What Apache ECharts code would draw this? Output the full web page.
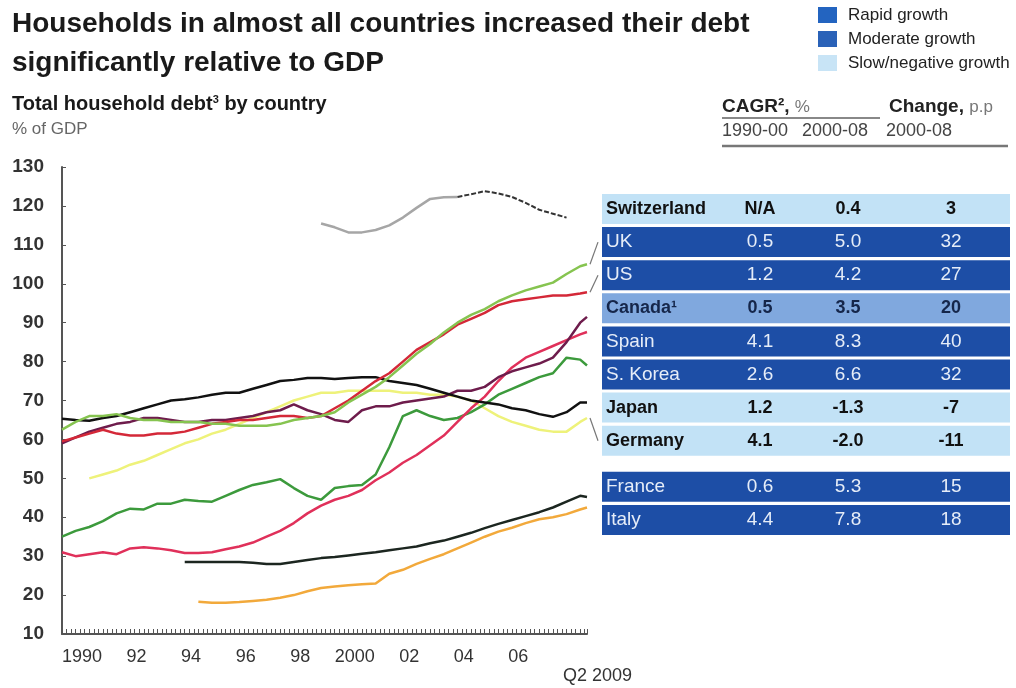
<!DOCTYPE html>
<html>
<head>
<meta charset="utf-8">
<script src="https://cdn.jsdelivr.net/npm/echarts@6/dist/echarts.min.js"></script>
<style>
  html, body { margin: 0; padding: 0; background: #fff; }
  #chart { width: 1016px; height: 688px; }
</style>
</head>
<body>
<div id="chart"></div>
<script>
// half-year grid, last point = Q2 2009
var periods = [1990, 1990.5, 1991, 1991.5, 1992, 1992.5, 1993, 1993.5, 1994, 1994.5,
  1995, 1995.5, 1996, 1996.5, 1997, 1997.5, 1998, 1998.5, 1999, 1999.5,
  2000, 2000.5, 2001, 2001.5, 2002, 2002.5, 2003, 2003.5, 2004, 2004.5,
  2005, 2005.5, 2006, 2006.5, 2007, 2007.5, 2008, 2008.5, 2009, 2009.25]

// household debt, % of GDP
var switzerland = [null, null, null, null, null, null, null, null, null, null,
  null, null, null, null, null, null, null, null, null, 115.5,
  114.5, 113.2, 113.2, 113.8, 115, 117, 119.5, 121.8, 122.2, 122.3,
  123, 123.8, 123.2, 122.3, 120.8, 119, 118, 117, null, null]
var uk = [62.5, 64.5, 66, 66, 66.5, 65.5, 65, 65, 64.5, 64.5,
  64.5, 64, 64, 63.5, 63.5, 63.5, 64, 65, 65.5, 66,
  67, 69.5, 71.5, 73.5, 76, 79, 82, 84.5, 87.5, 90,
  92, 93.5, 95.5, 97, 98.3, 99.3, 100.3, 102.5, 104.5, 105]
var us = [59.5, 60.5, 61.5, 62.5, 61.5, 61, 61, 61.5, 61.5, 62,
  63, 64, 64.5, 65, 65, 65.5, 66, 66, 65.5, 66,
  68, 70, 72.5, 75, 77, 80, 83, 85, 87, 89.5,
  91, 92.5, 94.5, 95.5, 96, 96.5, 97, 97, 97.5, 97.8]
var canada = [59, 60.5, 62, 63, 64, 64.5, 65.5, 65.5, 65, 64.5,
  64.5, 65, 65, 65.5, 66, 67, 67.5, 69, 67.5, 66.5,
  65, 64.5, 67.5, 68.5, 68.5, 69.5, 70, 70.5, 71, 72.5,
  72.5, 73.5, 76, 77.5, 78.5, 79.5, 81, 85, 90, 91.5]
var spain = [31, 30, 30.5, 31, 30.5, 32, 32.3, 32, 31.5, 30.8,
  30.8, 31, 31.8, 32.5, 33.5, 35, 36.5, 38.5, 41, 43,
  44.5, 45.5, 47, 49.5, 51.5, 54, 56, 58.5, 61, 64.5,
  68, 71, 75, 78.5, 81, 82.5, 84, 85.5, 87, 87.6]
var korea = [35, 36.5, 37.5, 39, 41, 42.2, 42, 43.5, 43.5, 44.5,
  44.2, 44, 45.5, 47, 48.3, 49, 49.8, 47.5, 45.5, 44.5,
  47.5, 48, 48.3, 51, 58, 66, 67.5, 66, 65, 65.5,
  67, 69, 71.5, 73, 74.5, 76, 77, 81, 80.5, 79]
var japan = [65.3, 65, 64.8, 65.5, 66, 67, 68, 69, 70, 70.3,
  70.8, 71.5, 72, 72, 73, 74, 75, 75.3, 75.8, 75.8,
  75.5, 75.8, 76, 76, 75, 74.5, 74, 73, 72, 71,
  70, 69.5, 69, 68, 67.5, 66.5, 65.8, 67, 69.5, 69.5]
var germany = [null, null, 50, 51, 52, 53.5, 54.5, 56, 57.5, 59,
  60, 61.5, 62.5, 64, 65.5, 67, 68.5, 70, 71, 72,
  72, 72.5, 72.5, 72.5, 72.5, 72, 72, 71.5, 71.5, 71,
  70, 68, 66, 64.5, 63.5, 62.5, 62, 62, 64.5, 65.5]
var france = [null, null, null, null, null, null, null, null, null, 28.5,
  28.5, 28.5, 28.5, 28.5, 28.3, 28, 28, 28.5, 29, 29.5,
  29.8, 30.2, 30.6, 31, 31.5, 32, 32.5, 33.3, 34, 35,
  36, 37.2, 38.3, 39.3, 40.3, 41.3, 42.5, 44, 45.5, 45.2]
var italy = [null, null, null, null, null, null, null, null, null, null,
  18.3, 18, 18, 18.2, 18.5, 18.8, 19.3, 20, 21, 21.8,
  22.2, 22.5, 22.8, 23, 25.5, 26.5, 28, 29.3, 30.5, 32,
  33.5, 35, 36.3, 37.3, 38.5, 39.5, 40, 40.8, 42, 42.5]

// table on the right
var tableNames = ['Switzerland', 'UK', 'US', 'Canada\u00b9', 'Spain', 'S. Korea', 'Japan', 'Germany', 'France', 'Italy']
var cagr9000 = ['N/A', '0.5', '1.2', '0.5', '4.1', '2.6', '1.2', '4.1', '0.6', '4.4']
var cagr0008 = ['0.4', '5.0', '4.2', '3.5', '8.3', '6.6', '-1.3', '-2.0', '5.3', '7.8']
var change0008 = ['3', '32', '27', '20', '40', '32', '-7', '-11', '15', '18']
var growthClass = ['slow', 'rapid', 'rapid', 'moderate', 'rapid', 'rapid', 'slow', 'slow', 'rapid', 'rapid']

var legendNames = ['Rapid growth', 'Moderate growth', 'Slow/negative growth']

var FONT = "'Liberation Sans', Arial, sans-serif"
var rowStyle = {
  rapid: { fill: '#1d4ea6', text: '#e6edf8', weight: 'normal', size: 19 },
  moderate: { fill: '#80a8de', text: '#15264a', weight: 'bold', size: 18 },
  slow: { fill: '#c2e2f6', text: '#111', weight: 'bold', size: 18 }
}
var legendColors = ['#2364c0', '#2a62b8', '#c8e4f6']

function pairs (vals) {
  return periods.map(function (p, i) { return [p, vals[i]] })
}
function part (vals, from, to) {
  return periods.map(function (p, i) { return [p, (i >= from && i <= to) ? vals[i] : null] })
}
function line (name, vals, color, width) {
  return {
    name: name,
    type: 'line',
    data: pairs(vals),
    symbol: 'none',
    lineStyle: { color: color, width: width || 2.5 },
    z: 3
  }
}

var chart = echarts.init(document.getElementById('chart'))

var option = {
  backgroundColor: '#fff',
  animation: false,
  grid: { left: 62, top: 167, width: 525, height: 467 },
  xAxis: {
    type: 'value',
    min: 1990,
    max: 2009.25,
    interval: 1,
    axisLine: { lineStyle: { color: '#555', width: 2 } },
    axisTick: { inside: true, length: 5, lineStyle: { color: '#555' } },
    minorTick: { show: true, splitNumber: 6, length: 5, lineStyle: { color: '#555' } },
    splitLine: { show: false },
    axisLabel: {
      color: '#333',
      fontSize: 18,
      fontFamily: FONT,
      margin: 14,
      padding: [0, 0, 0, 40],
      formatter: function (v) {
        if (v % 2 !== 0 || v === 2008) return ''
        if (v === 1990 || v === 2000) return String(v)
        return String(v).slice(2)
      }
    }
  },
  yAxis: {
    type: 'value',
    min: 10,
    max: 130,
    interval: 10,
    axisLine: { show: true, lineStyle: { color: '#555', width: 2 } },
    axisTick: { show: true, inside: true, length: 4, lineStyle: { color: '#555' } },
    splitLine: { show: false },
    axisLabel: { color: '#333', fontSize: 19, fontWeight: 'bold', fontFamily: FONT, margin: 18 }
  },
  series: [
    {
      name: 'Switzerland', type: 'line', data: part(switzerland, 0, 29), symbol: 'none',
      lineStyle: { color: '#a6a6a6', width: 2.5 }
    },
    {
      name: 'Switzerland', type: 'line', data: part(switzerland, 29, 39), symbol: 'none',
      lineStyle: { color: '#333', width: 2, type: [5, 2] }
    },
    line('Italy', italy, '#f2a93b'),
    line('France', france, '#1c2620'),
    line('Germany', germany, '#eef27a'),
    line('S. Korea', korea, '#3c9a3c'),
    line('Spain', spain, '#e0305a'),
    line('Canada', canada, '#6e1c4c'),
    line('Japan', japan, '#111'),
    line('US', us, '#d42838'),
    line('UK', uk, '#86c450')
  ]
}
chart.setOption(option)

// ---- text, table and legend ----
var g = []
function txt (x, y, s, size, opts) {
  opts = opts || {}
  g.push({
    type: 'text',
    x: x,
    y: y,
    style: {
      text: s,
      fontSize: size,
      fontFamily: FONT,
      fontWeight: opts.weight || 'normal',
      fill: opts.color || '#1a1a1a',
      align: opts.align || 'left',
      verticalAlign: 'middle',
      rich: opts.rich
    },
    z: 10
  })
}

txt(12, 24, 'Households in almost all countries increased their debt', 28, { weight: 'bold' })
txt(12, 63, 'significantly relative to GDP', 28, { weight: 'bold' })
txt(12, 104, '{b|Total household debt}{s|3}{b| by country}', 20, {
  rich: {
    b: { fontSize: 20, fontWeight: 'bold', fontFamily: FONT, fill: '#1a1a1a' },
    s: { fontSize: 11, fontWeight: 'bold', fontFamily: FONT, fill: '#1a1a1a', verticalAlign: 'top', padding: [0, 0, 9, 0] }
  }
})
txt(12, 129, '% of GDP', 17, { color: '#666' })
txt(563, 676, 'Q2 2009', 18, { color: '#333' })

// legend
legendNames.forEach(function (n, i) {
  g.push({ type: 'rect', shape: { x: 818, y: 7 + i * 24, width: 19, height: 16 }, style: { fill: legendColors[i] } })
  txt(848, 15 + i * 24, n, 17, { color: '#222' })
})

// table header
var headRich = {
  b: { fontSize: 19, fontWeight: 'bold', fontFamily: FONT, fill: '#222' },
  n: { fontSize: 17, fontFamily: FONT, fill: '#777' }
}
txt(722, 107, '{b|CAGR\u00b2,} {n|%}', 19, { rich: headRich })
txt(889, 107, '{b|Change,} {n|p.p}', 19, { rich: headRich })
g.push({ type: 'line', shape: { x1: 722, y1: 118, x2: 880, y2: 118 }, style: { stroke: '#888', lineWidth: 2 } })
txt(722, 131, '1990-00', 18, { color: '#444' })
txt(802, 131, '2000-08', 18, { color: '#444' })
txt(886, 131, '2000-08', 18, { color: '#444' })
g.push({ type: 'line', shape: { x1: 722, y1: 146, x2: 1008, y2: 146 }, style: { stroke: '#777', lineWidth: 2.5 } })

// table rows
tableNames.forEach(function (n, i) {
  var top = 194 + i * 33.1 + (i >= 8 ? 13 : 0)
  var st = rowStyle[growthClass[i]]
  g.push({ type: 'rect', shape: { x: 602, y: top, width: 408, height: 30 }, style: { fill: st.fill } })
  var cy = top + 15
  txt(606, cy, n, st.size, { color: st.text, weight: st.weight })
  txt(760, cy, cagr9000[i], st.size, { color: st.text, weight: st.weight, align: 'center' })
  txt(848, cy, cagr0008[i], st.size, { color: st.text, weight: st.weight, align: 'center' })
  txt(951, cy, change0008[i], st.size, { color: st.text, weight: st.weight, align: 'center' })
})

// leader lines from line ends to table rows
function leader (vals, rowIdx) {
  var last = vals.length - 1
  var p = chart.convertToPixel({ gridIndex: 0 }, [periods[last], vals[last]])
  var rowMid = 194 + rowIdx * 33.1 + 15
  g.push({
    type: 'line',
    shape: { x1: p[0] + 3, y1: p[1], x2: 598, y2: rowMid },
    style: { stroke: '#777', lineWidth: 1.2 }
  })
}
leader(uk, 1)
leader(us, 2)
leader(germany, 7)

chart.setOption({ graphic: g })
</script>
</body>
</html>
